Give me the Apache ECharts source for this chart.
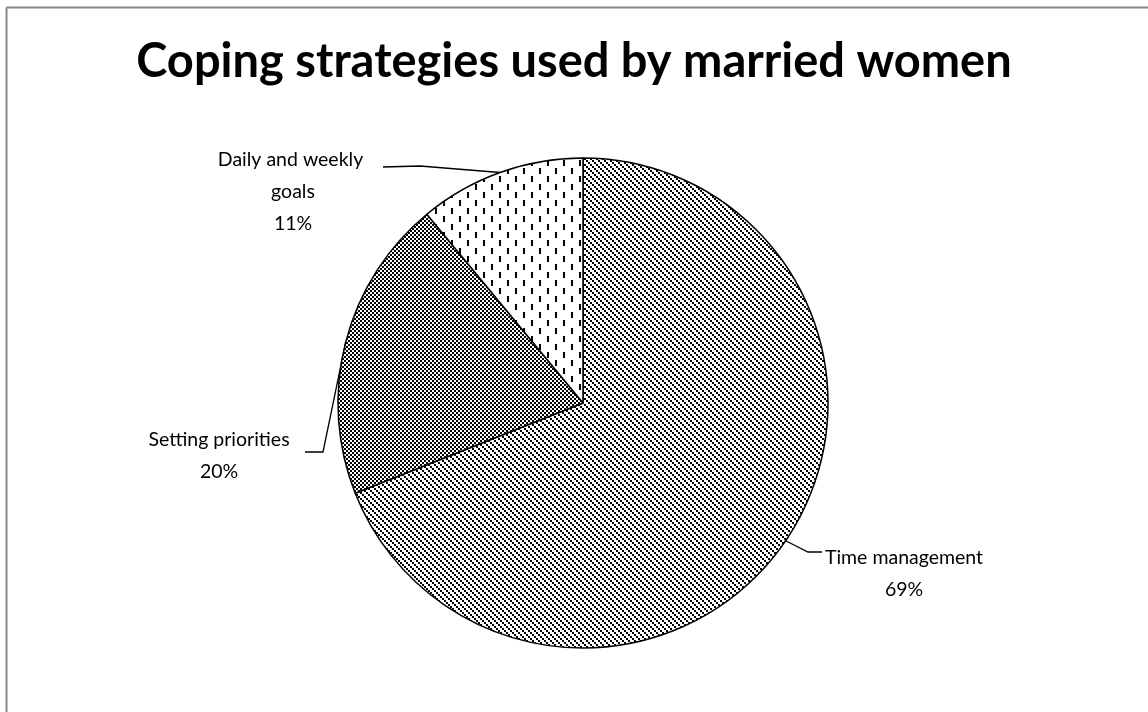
<!DOCTYPE html>
<html>
<head>
<meta charset="utf-8">
<script src="https://cdn.jsdelivr.net/npm/echarts@6/dist/echarts.min.js"></script>
<style>
  html, body { margin: 0; padding: 0; background: #fff; }
  #chart { width: 1148px; height: 712px; }
</style>
</head>
<body>
<div id="chart"></div>
<script>
const categories = ['Time management', 'Setting priorities', 'Daily and weekly goals']
const shares = [69, 20, 11]

// where Excel put each label (centre of text block) and the elbow of its leader line
const labelSpots = [
    { x: 904, y: 574, elbow: [[808, 552], [822, 552]] },
    { x: 219, y: 456, elbow: [[323, 452], [305, 452]] },
    { x: 293, y: 192, elbow: [[420, 166], [383, 167]] }
]

const makePattern = (w, h, draw) => {
    const c = document.createElement('canvas')
    c.width = w
    c.height = h
    const ctx = c.getContext('2d')
    ctx.fillStyle = '#fff'
    ctx.fillRect(0, 0, w, h)
    ctx.fillStyle = '#000'
    draw(ctx)
    return { image: c, repeat: 'repeat' }
}

const diagonal = makePattern(6, 6, ctx => {
    for (let i = 0; i < 6; i += 2) ctx.fillRect(i, i, 2, 2)
})
const checker = makePattern(4, 4, ctx => {
    ctx.fillRect(0, 0, 2, 2)
    ctx.fillRect(2, 2, 2, 2)
})
const dashes = makePattern(16, 16, ctx => {
    ctx.fillRect(3, 0, 2, 6)
    ctx.fillRect(11, 8, 2, 6)
})
const fills = [diagonal, checker, dashes]

const chart = echarts.init(document.getElementById('chart'))
chart.setOption({
    backgroundColor: '#fff',
    animation: false,
    title: {
        text: 'Coping strategies used by married women',
        left: 'center',
        top: 33,
        textStyle: {
            fontFamily: 'Lato',
            fontWeight: 'bold',
            fontSize: 47,
            color: '#000'
        }
    },
    graphic: [
        { type: 'line', shape: { x1: 6.5, y1: 7.5, x2: 1148, y2: 7.5 }, style: { stroke: '#888', lineWidth: 2 } },
        { type: 'line', shape: { x1: 6.5, y1: 7.5, x2: 6.5, y2: 712 }, style: { stroke: '#888', lineWidth: 2 } }
    ],
    series: [
        {
            type: 'pie',
            center: [583, 403],
            radius: 245,
            startAngle: 90,
            clockwise: true,
            avoidLabelOverlap: false,
            percentPrecision: 0,
            itemStyle: {
                borderColor: '#000',
                borderWidth: 1.5
            },
            label: {
                show: true,
                position: 'outside',
                formatter: '{b}\n{d}%',
                fontFamily: 'Lato',
                fontSize: 19.5,
                lineHeight: 32,
                color: '#000',
                align: 'center'
            },
            labelLine: {
                show: true,
                length: 20,
                length2: 15,
                lineStyle: { color: '#000', width: 1.3 }
            },
            labelLayout(params) {
                const spot = labelSpots[params.dataIndex]
                const start = params.labelLinePoints ? params.labelLinePoints[0] : spot.elbow[0]
                return {
                    x: spot.x,
                    y: spot.y,
                    align: 'center',
                    verticalAlign: 'middle',
                    labelLinePoints: [start, spot.elbow[0], spot.elbow[1]]
                }
            },
            data: categories.map((name, i) => ({
                name,
                value: shares[i],
                itemStyle: { color: fills[i] },
                label: i === 2 ? { width: 160, overflow: 'break' } : {}
            }))
        }
    ]
})
</script>
</body>
</html>
